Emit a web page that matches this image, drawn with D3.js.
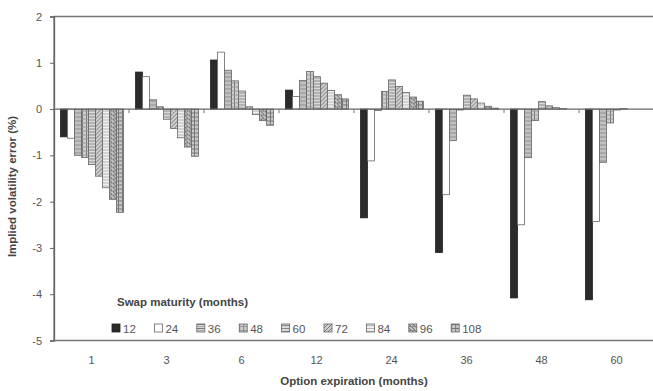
<!DOCTYPE html>
<html>
<head>
<meta charset="utf-8">
<script src="https://cdn.jsdelivr.net/npm/d3@7"></script>
<style>
  html, body { margin: 0; padding: 0; background: #fff; overflow: hidden; }
  svg { display: block; }
</style>
</head>
<body>
<svg width="653" height="391"></svg>
<script>
// option expiration (months) on the x axis
const categories = ['1', '3', '6', '12', '24', '36', '48', '60']
// swap maturity (months) = series
const seriesNames = ['12', '24', '36', '48', '60', '72', '84', '96', '108']

const s12  = [-0.60, 0.80, 1.06, 0.41, -2.35, -3.10, -4.08, -4.12]
const s24  = [-0.63, 0.70, 1.23, 0.27, -1.12, -1.85, -2.50, -2.43]
const s36  = [-1.00, 0.20, 0.84, 0.62, -0.03, -0.68, -1.05, -1.15]
const s48  = [-1.05, 0.05, 0.61, 0.81, 0.38, -0.02, -0.25, -0.30]
const s60  = [-1.20, -0.22, 0.39, 0.70, 0.63, 0.30, 0.16, -0.02]
const s72  = [-1.45, -0.42, 0.05, 0.56, 0.49, 0.22, 0.07, 0.01]
const s84  = [-1.70, -0.62, -0.12, 0.40, 0.36, 0.13, 0.03, 0.00]
const s96  = [-1.95, -0.82, -0.25, 0.31, 0.26, 0.06, 0.01, 0.00]
const s108 = [-2.23, -1.02, -0.35, 0.22, 0.17, 0.02, 0.00, 0.00]

const yTicks = [-5, -4, -3, -2, -1, 0, 1, 2]

const seriesValues = [s12, s24, s36, s48, s60, s72, s84, s96, s108]

const FONT = "'Liberation Sans', Arial, sans-serif"

const svg = d3.select('svg')
const w = +svg.attr('width')
const h = +svg.attr('height')

const margin = {top: 16.5, right: 0, bottom: 50.5, left: 54}
const innerWidth = w - margin.left - margin.right
const innerHeight = h - margin.top - margin.bottom

// hatch patterns for the grey series
const defs = svg.append('defs')
const pat = (id, bg, draw, size = 4) => {
  const p = defs.append('pattern').attr('id', id)
    .attr('patternUnits', 'userSpaceOnUse')
    .attr('width', size).attr('height', size)
  p.append('rect').attr('width', size).attr('height', size).attr('fill', bg)
  draw(p)
}
const ln = (p, x1, y1, x2, y2, c = '#7a7a7a', sw = 1) =>
  p.append('line').attr('x1', x1).attr('y1', y1).attr('x2', x2).attr('y2', y2)
    .attr('stroke', c).attr('stroke-width', sw)

pat('p36', '#d6d6d6', p => { ln(p, 0, 0.5, 4, 0.5); ln(p, 0, 2.5, 4, 2.5, '#aaa') })
pat('p48', '#cfcfcf', p => { ln(p, 0.5, 0, 0.5, 4); ln(p, 0, 2.5, 4, 2.5, '#999') })
pat('p60', '#d9d9d9', p => { ln(p, 0, 1.5, 4, 1.5, '#8a8a8a') }, 3)
pat('p72', '#d0d0d0', p => { ln(p, 0, 4, 4, 0, '#777') })
pat('p84', '#efefef', p => { ln(p, 0, 1.5, 3, 1.5, '#b5b5b5') }, 3)
pat('p96', '#c4c4c4', p => { ln(p, 0, 0, 4, 4, '#666'); ln(p, 0, 2.5, 4, 2.5, '#888') })
pat('p108', '#c8c8c8', p => { ln(p, 0, 0.5, 4, 0.5, '#777'); ln(p, 0.5, 0, 0.5, 4, '#777') })

const fills = ['#2b2b2b', '#ffffff', 'url(#p36)', 'url(#p48)', 'url(#p60)',
  'url(#p72)', 'url(#p84)', 'url(#p96)', 'url(#p108)']
const color = d3.scaleOrdinal().domain(seriesNames).range(fills)

const x0 = d3.scaleBand()
  .domain(categories)
  .range([0, 600])

const x1 = d3.scaleBand()
  .domain(seriesNames)
  .range([6.5, x0.bandwidth() - 5.5])

const yScale = d3.scaleLinear()
  .domain([-5, 2])
  .range([innerHeight, 0])

const g = svg.append('g')
  .attr('transform', `translate(${margin.left}, ${margin.top})`)

// plot frame (right side runs off the picture)
g.append('path')
  .attr('d', `M${innerWidth},0H0V${innerHeight}H${innerWidth}`)
  .attr('fill', 'none').attr('stroke', '#777').attr('stroke-width', 1.3)

const rows = []
categories.forEach((c, ci) => {
  seriesNames.forEach((s, si) => rows.push({cat: c, ser: s, value: seriesValues[si][ci]}))
})

g.selectAll('rect.bar').data(rows)
  .enter().append('rect')
    .attr('class', 'bar')
    .attr('x', d => x0(d.cat) + x1(d.ser))
    .attr('width', x1.bandwidth())
    .attr('y', d => yScale(Math.max(0, d.value)))
    .attr('height', d => Math.abs(yScale(d.value) - yScale(0)))
    .attr('fill', d => color(d.ser))
    .attr('stroke', d => d.ser === '12' ? '#222' : '#666')
    .attr('stroke-width', 0.8)

// category axis along zero with boundary ticks
const zeroG = g.append('g').attr('transform', `translate(0, ${yScale(0)})`)
zeroG.append('line')
  .attr('x1', 0).attr('x2', innerWidth)
  .attr('stroke', '#666').attr('stroke-width', 1.3)
zeroG.selectAll('line.ct').data(categories.slice(1))
  .enter().append('line')
    .attr('class', 'ct')
    .attr('x1', d => x0(d)).attr('x2', d => x0(d))
    .attr('y1', 0).attr('y2', 4)
    .attr('stroke', '#777')

// category labels at the bottom
const xAxisG = g.append('g')
  .attr('transform', `translate(0, ${innerHeight})`)
  .call(d3.axisBottom(x0).tickSize(0).tickPadding(16))
  .attr('font-family', FONT).attr('font-size', 11)
xAxisG.select('.domain').remove()
xAxisG.selectAll('.tick text').attr('fill', '#555')

svg.append('text')
  .attr('x', margin.left + 300)
  .attr('y', 385)
  .attr('text-anchor', 'middle')
  .attr('font-family', FONT).attr('font-size', 11.5).attr('font-weight', 'bold')
  .attr('fill', '#444')
  .text('Option expiration (months)')

const yAxisG = g.append('g')
  .call(d3.axisLeft(yScale).tickValues(yTicks).tickFormat(d3.format('d')).tickSize(4).tickPadding(8))
  .attr('font-family', FONT).attr('font-size', 11)
yAxisG.select('.domain').attr('stroke', '#666').attr('stroke-width', 1.3)
yAxisG.selectAll('.tick line').attr('stroke', '#666')
yAxisG.selectAll('.tick text').attr('fill', '#555').text(d => d < 0 ? '-' + Math.abs(d) : d)

svg.append('text')
  .attr('transform', `translate(16, ${margin.top + 170}) rotate(-90)`)
  .attr('text-anchor', 'middle')
  .attr('font-family', FONT).attr('font-size', 11.5).attr('font-weight', 'bold')
  .attr('fill', '#444')
  .text('Implied volatility error (%)')

// legend
const legend = svg.append('g').attr('transform', 'translate(112, 0)')
legend.append('text')
  .attr('x', 5).attr('y', 306)
  .attr('font-family', FONT).attr('font-size', 11.5).attr('font-weight', 'bold')
  .attr('fill', '#444')
  .text('Swap maturity (months)')

const item = legend.selectAll('g.item').data(seriesNames)
  .enter().append('g')
    .attr('class', 'item')
    .attr('transform', (d, i) => `translate(${i * 42.4}, 324)`)
item.append('rect')
  .attr('width', 8).attr('height', 8)
  .attr('fill', d => color(d))
  .attr('stroke', d => d === '12' ? '#222' : '#666')
  .attr('stroke-width', 0.8)
item.append('text')
  .attr('x', 11).attr('y', 8.5)
  .attr('font-family', FONT)
  .attr('fill', '#555').attr('font-size', 11.5)
  .text(d => d)
</script>
</body>
</html>
